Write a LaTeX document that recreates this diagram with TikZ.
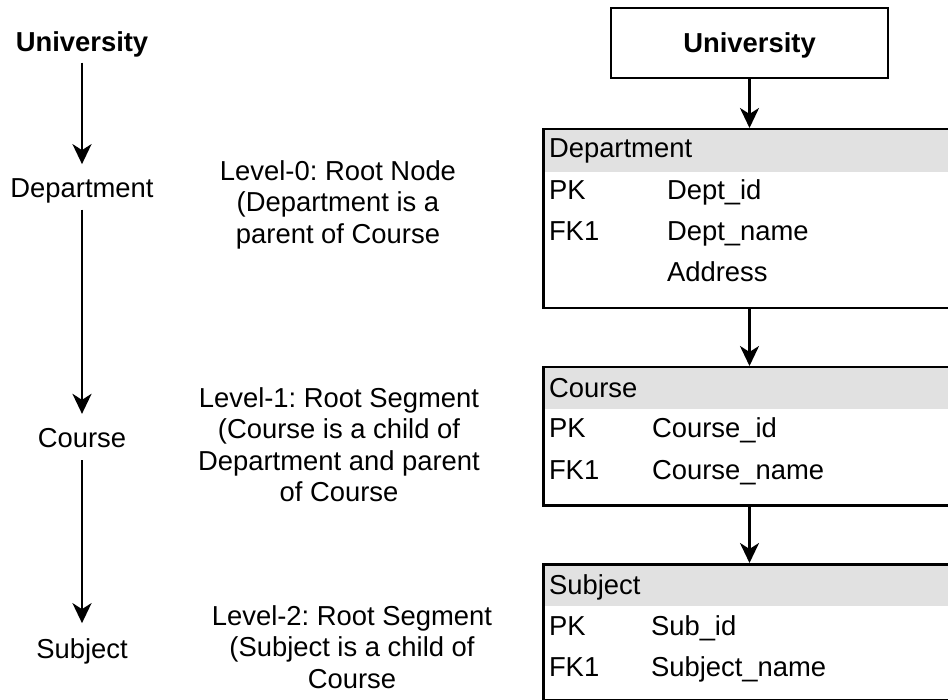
\documentclass[tikz,border=0pt]{standalone}
\usepackage{fontspec}
\setmainfont{Liberation Sans}
\usetikzlibrary{arrows.meta}
\definecolor{hdrgray}{HTML}{E1E1E1}
\frenchspacing
\begin{document}
\begin{tikzpicture}[x=1pt,y=-1pt,
  lbl/.style={font=\fontsize{27.4}{31.5}\selectfont, inner sep=0pt, outer sep=0pt},
  boldlbl/.style={lbl, font=\fontsize{27.4}{31.5}\selectfont\bfseries},
  desc/.style={lbl, align=center, anchor=north},
  arr/.style={line width=2.8pt, -{Stealth[length=20pt,width=19pt,inset=6pt]}},
  tbl/.style={draw, line width=2.5pt, anchor=north west, inner sep=0pt},
  hdrfill/.style={fill=hdrgray}]
\useasboundingbox (0,0) rectangle (948,700);
\clip (0,0) rectangle (948,700);

% ---------- left column ----------
\node[boldlbl, anchor=base] (luni) at (82,52) {University};
\node[lbl, anchor=base] (ldept) at (82,198) {Department};
\node[lbl, anchor=base] (lcourse) at (82,448) {Course};
\node[lbl, anchor=base] (lsub) at (82,658) {Subject};
\draw[arr] ([yshift=-5pt]luni.south) -- ([yshift=15pt]ldept.north);
\draw[arr] ([yshift=-6pt]ldept.south) -- ([yshift=15pt]lcourse.north);
\draw[arr] ([yshift=-12pt]lcourse.south) -- ([yshift=15pt]lsub.north);

% ---------- descriptions ----------
\node[desc] (lv0) at (338,160.4) {Level-0: Root Node\\(Department is a\\parent of Course};
\node[desc] (lv1) at (339,387.4) {Level-1: Root Segment\\(Course is a child of\\Department and parent\\of Course};
\node[desc] (lv2) at (352,605.4) {Level-2: Root Segment\\(Subject is a child of\\Course};

% ---------- right column ----------
\node[tbl, boldlbl, draw, line width=2.8pt, anchor=north west, minimum width=277pt, minimum height=70pt, text height=19.6pt, text depth=0pt] (uni) at (611,8) {University};

% Department table
\fill[hdrfill] (542,128) rectangle (975,172);
\node[tbl, minimum width=433pt, minimum height=179pt] (dept) at (542,128) {};
\node[lbl, anchor=base west] (dept-h) at (549,158) {Department};
\node[lbl, anchor=base west] (dept-k1) at (549,200) {PK};
\node[lbl, anchor=base west] (dept-v1) at (667,200) {Dept\_id};
\node[lbl, anchor=base west] (dept-k2) at (549,241) {FK1};
\node[lbl, anchor=base west] (dept-v2) at (667,241) {Dept\_name};
\node[lbl, anchor=base west] (dept-v3) at (667,282) {Address};

% Course table
\fill[hdrfill] (542,366) rectangle (975,409);
\node[tbl, minimum width=433pt, minimum height=138pt] (course) at (542,366) {};
\node[lbl, anchor=base west] (course-h) at (549,398) {Course};
\node[lbl, anchor=base west] (course-k1) at (549,438) {PK};
\node[lbl, anchor=base west] (course-v1) at (652,438) {Course\_id};
\node[lbl, anchor=base west] (course-k2) at (549,479) {FK1};
\node[lbl, anchor=base west] (course-v2) at (652,479) {Course\_name};

% Subject table
\fill[hdrfill] (542,563) rectangle (975,606);
\node[tbl, minimum width=433pt, minimum height=136pt] (subj) at (542,563) {};
\node[lbl, anchor=base west] (subj-h) at (549,594) {Subject};
\node[lbl, anchor=base west] (subj-k1) at (549,635) {PK};
\node[lbl, anchor=base west] (subj-v1) at (651,635) {Sub\_id};
\node[lbl, anchor=base west] (subj-k2) at (549,676) {FK1};
\node[lbl, anchor=base west] (subj-v2) at (651,676) {Subject\_name};

% connectors
\draw[arr] (uni.south) -- (uni.south |- dept.north);
\draw[arr] (uni.south |- dept.south) -- (uni.south |- course.north);
\draw[arr] (uni.south |- course.south) -- (uni.south |- subj.north);
\end{tikzpicture}
\end{document}
